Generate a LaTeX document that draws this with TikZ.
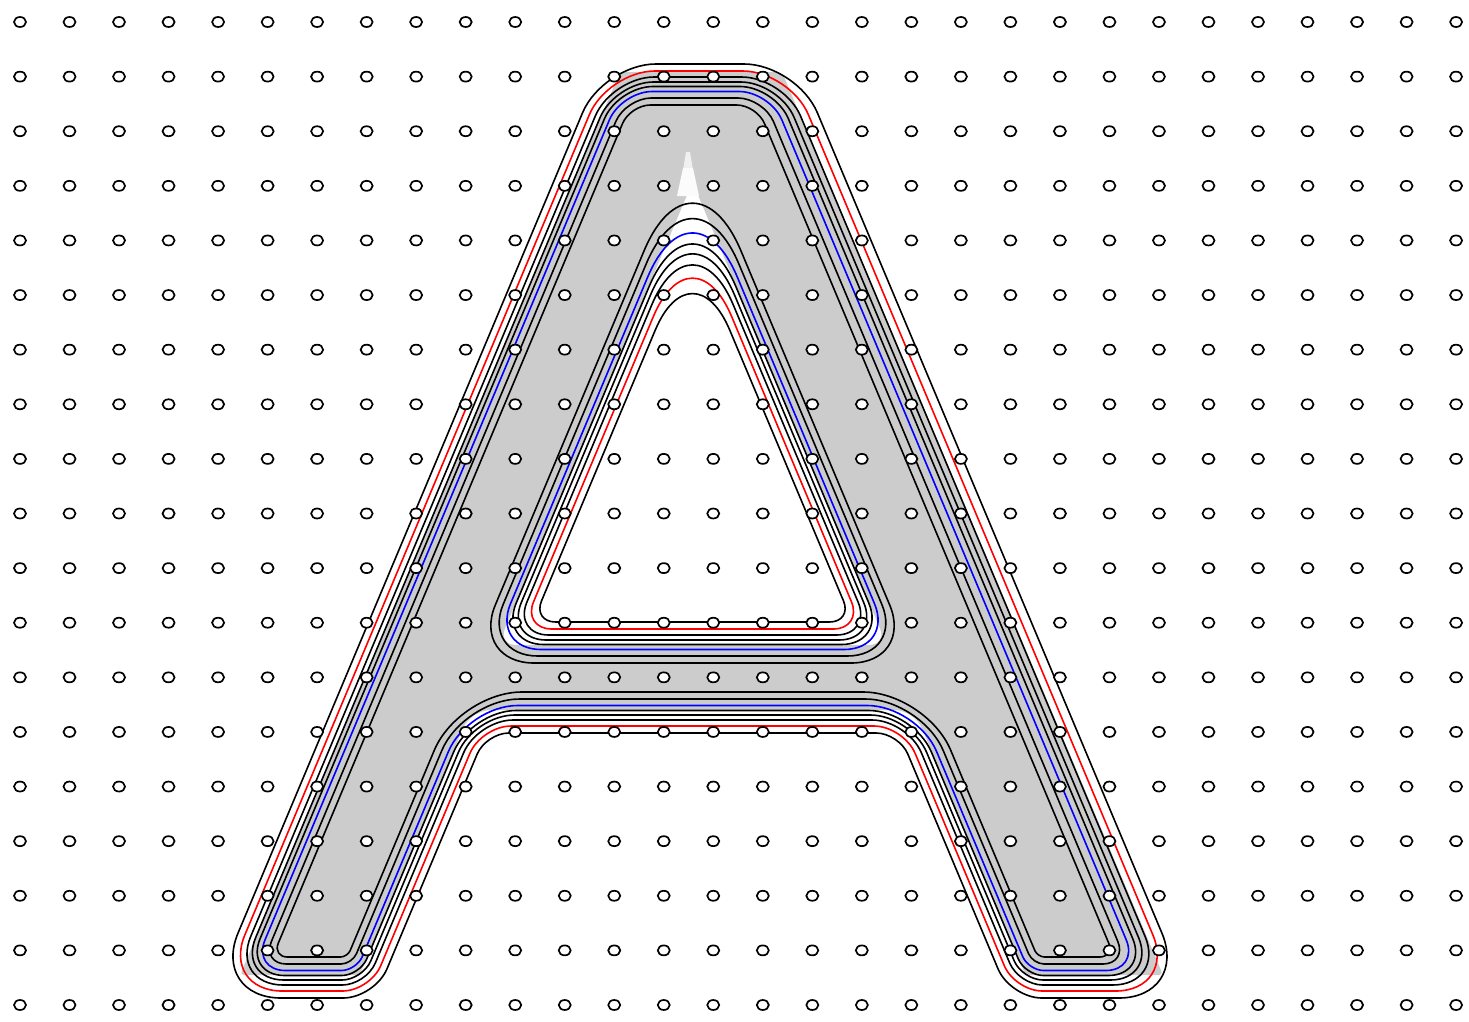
\documentclass[tikz,border=0pt]{standalone}
\usetikzlibrary{calc,shapes.geometric}
\definecolor{glyphgray}{HTML}{CCCCCC}
\tikzset{
  dot/.style={ellipse, draw=black, fill=white, line width=1.7pt, inner sep=0pt, minimum width=12pt, minimum height=10pt},
  contourline/.style={line width=1.6pt, line join=round},
}
% rounded corner at vertex #1 (previous #2, next #3), cut length #4
\newcommand\crn[4]{ -- ($(#1)!#4 pt!(#2)$) .. controls ($(#1)!0.45*#4 pt!(#2)$) and ($(#1)!0.45*#4 pt!(#3)$) .. ($(#1)!#4 pt!(#3)$)}
\begin{document}
\begin{tikzpicture}[x=1pt,y=-1pt]
\path[use as bounding box, fill=white] (0,0) rectangle (1469,1021);
% gray glyph
\coordinate (G1) at (620,72);
\coordinate (G2) at (782,72);
\coordinate (G3) at (1163,975);
\coordinate (G4) at (1025.6,975);
\coordinate (G5) at (914.3,710);
\coordinate (G6) at (470.7,710);
\coordinate (G7) at (359.4,975);
\coordinate (G8) at (240,975);
\coordinate (GH1) at (692.5,182);
\coordinate (GH2) at (887,645);
\coordinate (GH3) at (498,645);
\coordinate (GM) at ($(G1)!0.5!(G2)$);
\coordinate (GN) at ($(GH2)!0.5!(GH3)$);
\fill[glyphgray, even odd rule] (GM) \crn{G2}{G1}{G3}{6} \crn{G3}{G2}{G4}{4} \crn{G4}{G3}{G5}{4} \crn{G5}{G4}{G6}{20} \crn{G6}{G5}{G7}{20} \crn{G7}{G6}{G8}{4} \crn{G8}{G7}{G1}{4} \crn{G1}{G8}{G2}{6} -- cycle
  (GN) \crn{GH3}{GH2}{GH1}{18} \crn{GH1}{GH3}{GH2}{10} \crn{GH2}{GH1}{GH3}{18} -- cycle;
% light streak at the inner apex
\fill[white!70!glyphgray] (686,152) -- (690,152) -- (693,170) -- (683,170) -- cycle;
\fill[white!92!glyphgray] (683,168) -- (693,168) -- (699,196) -- (677,196) -- cycle;
% contour levels
\foreach \e/\col in {0/black, 7/black, 13.5/blue, 18.5/black, 23/black, 28/black, 34/red, 41/black} {
  \pgfmathsetmacro\hL{1.085*\e}
  \pgfmathsetmacro\hR{1.4*\e}
  \pgfmathsetmacro\yT{105-\e}
  \pgfmathsetmacro\yB{957+\e}
  \pgfmathsetmacro\yCT{663-\e}
  \pgfmathsetmacro\yCB{692+\e}
  \coordinate (V1) at ({477-\hL-0.42*(\yT-470)},\yT);
  \coordinate (V2) at ({910+\hR+0.42*(\yT-470)},\yT);
  \coordinate (V3) at ({910+\hR+0.42*(\yB-470)},\yB);
  \coordinate (V4) at ({833-\hL+0.42*(\yB-470)},\yB);
  \coordinate (V5) at ({833-\hL+0.42*(\yCB-470)},\yCB);
  \coordinate (V6) at ({552+\hL-0.42*(\yCB-470)},\yCB);
  \coordinate (V7) at ({552+\hL-0.42*(\yB-470)},\yB);
  \coordinate (V8) at ({477-\hL-0.42*(\yB-470)},\yB);
  \coordinate (M) at ($(V1)!0.5!(V2)$);
  \pgfmathsetmacro\aAp{20+0.8*\e}
  \pgfmathsetmacro\aFo{15+1.35*\e}
  \pgfmathsetmacro\aFi{7+0.6*\e}
  \pgfmathsetmacro\aN{63-0.98*\e}
  \draw[contourline,draw=\col] (M) \crn{V2}{V1}{V3}{\aAp} \crn{V3}{V2}{V4}{\aFo} \crn{V4}{V3}{V5}{\aFi} \crn{V5}{V4}{V6}{\aN} \crn{V6}{V5}{V7}{\aN} \crn{V7}{V6}{V8}{\aFi} \crn{V8}{V7}{V1}{\aFo} \crn{V1}{V8}{V2}{\aAp} -- cycle;
  \pgfmathsetmacro\yA{470+(-281+2*\hL)/0.84}
  \coordinate (H1) at ({552+\hL-0.42*(\yA-470)},\yA);
  \coordinate (H2) at ({833-\hL+0.42*(\yCT-470)},\yCT);
  \coordinate (H3) at ({552+\hL-0.42*(\yCT-470)},\yCT);
  \coordinate (N) at ($(H2)!0.5!(H3)$);
  \pgfmathsetmacro\aH{125-0.7*\e}
  \draw[contourline,draw=\col] (N) \crn{H3}{H2}{H1}{\aN} \crn{H1}{H3}{H2}{\aH} \crn{H2}{H1}{H3}{\aN} -- cycle;
}
% grid of small ellipses
\foreach \i in {0,...,29} {
  \foreach \j in {0,...,18} {
    \node[dot] (c\i-\j) at ({20+49.52*\i},{22+54.61*\j}) {};
  }
}
\end{tikzpicture}
\end{document}
